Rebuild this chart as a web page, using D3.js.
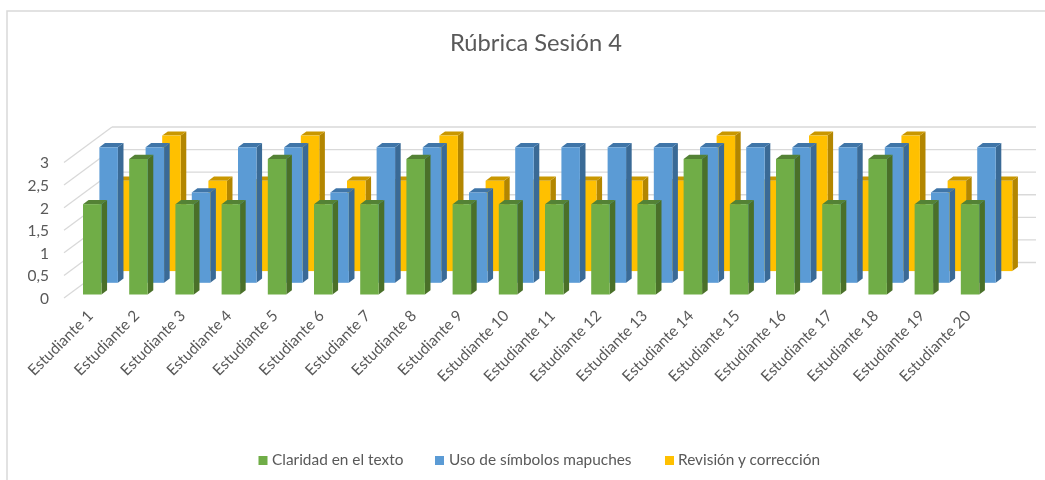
<!DOCTYPE html>
<html><head><meta charset="utf-8">
<script src="https://cdn.jsdelivr.net/npm/d3@7/dist/d3.min.js"></script>
<style>html,body{margin:0;padding:0;background:#fff;overflow:hidden}svg{display:block}text{font-family:Lato,"Open Sans",sans-serif;fill:#595959}</style>
</head><body><div id="chart"></div>
<script>
const students = ["Estudiante 1","Estudiante 2","Estudiante 3","Estudiante 4","Estudiante 5","Estudiante 6","Estudiante 7","Estudiante 8","Estudiante 9","Estudiante 10","Estudiante 11","Estudiante 12","Estudiante 13","Estudiante 14","Estudiante 15","Estudiante 16","Estudiante 17","Estudiante 18","Estudiante 19","Estudiante 20"];
const claridad = [2,3,2,2,3,2,2,3,2,2,2,2,2,3,2,3,2,3,2,2];
const simbolos = [3,3,2,3,3,2,3,3,2,3,3,3,3,3,3,3,3,3,2,3];
const revision = [2,3,2,2,3,2,2,3,2,2,2,2,2,3,2,3,2,3,2,2];
const seriesNames = ["Claridad en el texto","Uso de símbolos mapuches","Revisión y corrección"];
const seriesValues = [claridad, simbolos, revision];
const frontColors = ["#70ad47","#5b9bd5","#ffc000"];
const topColors = ["#548235","#3f75a8","#c99700"];
const sideColors = ["#4a7029","#3a6a96","#b38600"];
const yTicks = [0,0.5,1,1.5,2,2.5,3];
const titleText = "Rúbrica Sesión 4";

const W=1045,H=480;
const svg=d3.select("#chart").append("svg").attr("width",W).attr("height",H);
const g=svg.append("g").style("filter","blur(0.5px)");

g.append("rect").attr("x",7).attr("y",11).attr("width",1100).attr("height",500).attr("fill","#fff").attr("stroke","#d9d9d9").attr("stroke-width",1.5);

const x=d3.scaleBand().domain(students).range([83,979.3]).paddingInner(0.6).paddingOuter(0);
const y=d3.scaleLinear().domain([0,3]).range([294.5,159]);
const sx=d3.scaleLinear().domain([0,1,2]).range([0,16.4,33]);
const sy=d3.scaleLinear().domain([0,1,2]).range([0,-11.7,-23.4]);
const bw=x.bandwidth(), dx=5.6, dy=4.2;

// walls
const wallDx=48, wallDy=-35.5, wallX0=64, wallX1=1036, wallY=v=>y(v)+3.5;
yTicks.forEach(v=>{
  g.append("line").attr("x1",wallX0).attr("y1",wallY(v)).attr("x2",wallX0+wallDx).attr("y2",wallY(v)+wallDy).attr("stroke","#d9d9d9").attr("stroke-width",1.3);
  g.append("line").attr("x1",wallX0+wallDx).attr("y1",wallY(v)+wallDy).attr("x2",wallX1).attr("y2",wallY(v)+wallDy).attr("stroke","#d9d9d9").attr("stroke-width",1.3);
  g.append("text").attr("x",49).attr("y",wallY(v)+2).attr("text-anchor","end").attr("dominant-baseline","middle").attr("font-size",15.5).text(String(v).replace(".",","));
});

// bars back to front
[2,1,0].forEach(s=>{
  const layer=g.append("g");
  seriesValues[s].forEach((v,i)=>{
    const x0=x(students[i])+sx(s), x1=x0+bw, b=y(0)+sy(s), t=y(v)+sy(s);
    layer.append("path").attr("fill",sideColors[s]).attr("d",`M${x1},${t}L${x1+dx},${t-dy}L${x1+dx},${b-dy}L${x1},${b}Z`);
    layer.append("path").attr("fill",topColors[s]).attr("d",`M${x0},${t}L${x0+dx},${t-dy}L${x1+dx},${t-dy}L${x1},${t}Z`);
    layer.append("rect").attr("x",x0).attr("y",t).attr("width",bw).attr("height",b-t).attr("fill",frontColors[s]);
  });
});

// category labels
students.forEach(n=>{
  const xe=x(n)+bw/2-1, ye=314;
  g.append("text").attr("transform",`translate(${xe},${ye}) rotate(-45)`).attr("text-anchor","end").attr("dominant-baseline","middle").attr("font-size",15.4).text(n);
});

// title
g.append("text").attr("x",536).attr("y",45).attr("text-anchor","middle").attr("dominant-baseline","middle").attr("font-size",23.7).text(titleText);

// legend
const legendX=[258.5,435,665], textX=[272,449,678];
seriesNames.forEach((n,i)=>{
  g.append("rect").attr("x",legendX[i]).attr("y",456).attr("width",9).attr("height",9).attr("fill",frontColors[i]);
  g.append("text").attr("x",textX[i]).attr("y",461.5).attr("dominant-baseline","middle").attr("font-size",15.4).text(n);
});
</script></body></html>
